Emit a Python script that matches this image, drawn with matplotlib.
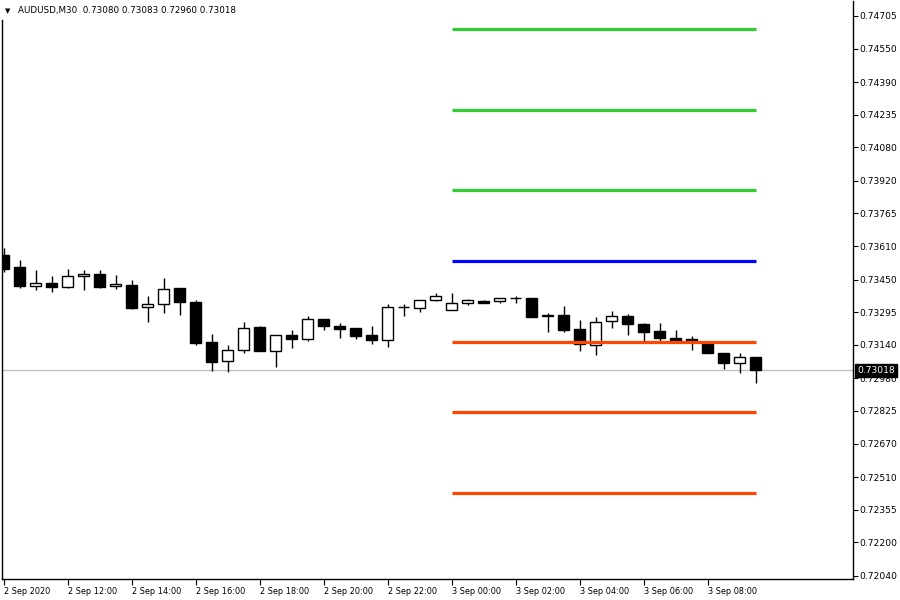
import matplotlib
matplotlib.use("Agg")
import matplotlib.pyplot as plt
import matplotlib.transforms as mtrans

symbol_title = "AUDUSD,M30  0.73080 0.73083 0.72960 0.73018"

opens = [0.73567, 0.73509, 0.73421, 0.73434, 0.73417, 0.73466, 0.73477, 0.73418,
         0.73425, 0.73318, 0.73333, 0.73410, 0.73344, 0.73152, 0.73061, 0.73114,
         0.73223, 0.73109, 0.73185, 0.73169, 0.73261, 0.73228, 0.73218, 0.73185,
         0.73164, 0.73318, 0.73314, 0.73352, 0.73304, 0.73337, 0.73347, 0.73347,
         0.73361, 0.73361, 0.73283, 0.73282, 0.73214, 0.73138, 0.73252, 0.73277,
         0.73238, 0.73204, 0.73171, 0.73166, 0.73153, 0.73099, 0.73052, 0.73080]
highs = [0.73601, 0.73544, 0.73496, 0.73467, 0.73501, 0.73496, 0.73496, 0.73472,
         0.73448, 0.73372, 0.73458, 0.73410, 0.73353, 0.73190, 0.73138, 0.73248,
         0.73229, 0.73185, 0.73209, 0.73276, 0.73261, 0.73242, 0.73218, 0.73228,
         0.73333, 0.73333, 0.73352, 0.73385, 0.73385, 0.73356, 0.73352, 0.73361,
         0.73371, 0.73361, 0.73290, 0.73325, 0.73257, 0.73271, 0.73299, 0.73285,
         0.73242, 0.73242, 0.73210, 0.73182, 0.73159, 0.73099, 0.73099, 0.73083]
lows = [0.73486, 0.73412, 0.73402, 0.73393, 0.73412, 0.73402, 0.73412, 0.73407,
        0.73312, 0.73250, 0.73293, 0.73283, 0.73140, 0.73017, 0.73009, 0.73102,
        0.73109, 0.73036, 0.73126, 0.73159, 0.73212, 0.73174, 0.73169, 0.73145,
        0.73131, 0.73278, 0.73296, 0.73347, 0.73304, 0.73328, 0.73337, 0.73337,
        0.73337, 0.73274, 0.73199, 0.73202, 0.73109, 0.73093, 0.73218, 0.73185,
        0.73152, 0.73158, 0.73149, 0.73114, 0.73099, 0.73026, 0.73004, 0.72960]
closes = [0.73501, 0.73421, 0.73434, 0.73417, 0.73467, 0.73477, 0.73417, 0.73429,
          0.73317, 0.73334, 0.73406, 0.73345, 0.73150, 0.73060, 0.73114, 0.73218,
          0.73109, 0.73185, 0.73169, 0.73261, 0.73228, 0.73217, 0.73183, 0.73164,
          0.73318, 0.73319, 0.73352, 0.73371, 0.73337, 0.73352, 0.73340, 0.73361,
          0.73361, 0.73274, 0.73276, 0.73212, 0.73142, 0.73247, 0.73276, 0.73238,
          0.73199, 0.73171, 0.73153, 0.73158, 0.73099, 0.73052, 0.73080, 0.73018]

green_levels = [0.74643, 0.74258, 0.73877]
blue_levels = [0.73539]
red_levels = [0.73153, 0.72820, 0.72434]
level_start_bar = 28
level_end_bar = 47
current_price = 0.73018

y_tick_labels = ["0.74705", "0.74550", "0.74390", "0.74235", "0.74080", "0.73920",
                 "0.73765", "0.73610", "0.73450", "0.73295", "0.73140", "0.72980",
                 "0.72825", "0.72670", "0.72510", "0.72355", "0.72200", "0.72040"]
x_tick_bars = [0, 4, 8, 12, 16, 20, 24, 28, 32, 36, 40, 44]
x_tick_labels = ["2 Sep 2020", "2 Sep 12:00", "2 Sep 14:00", "2 Sep 16:00",
                 "2 Sep 18:00", "2 Sep 20:00", "2 Sep 22:00", "3 Sep 00:00",
                 "3 Sep 02:00", "3 Sep 04:00", "3 Sep 06:00", "3 Sep 08:00"]

W, H = 900, 600
fig = plt.figure(figsize=(9, 6), dpi=100)
fig.patch.set_facecolor("white")
left_px, right_px, top_px, bottom_px = 2, 853, 1, 579
ax = fig.add_axes([left_px / W, 1 - bottom_px / H, (right_px - left_px) / W,
                   (bottom_px - top_px) / H])
ax.set_facecolor("white")

ax.set_xlim((left_px - 3.5) / 16, (right_px - 3.5) / 16)
ax.set_ylim(0.74705 - (bottom_px - 16) * 0.0000476, 0.74705 + (16 - top_px) * 0.0000476)

ax.axhline(current_price, color="#C0C0C0", lw=1.0, zorder=1)

n = len(opens)
for i in range(n):
    o, h, l, c = opens[i], highs[i], lows[i], closes[i]
    ax.vlines(i, l, h, color="black", lw=1.0, zorder=2)
    bull = c >= o
    ax.bar(i, c - o, bottom=o, width=0.66, color="white" if bull else "black",
           edgecolor="black", linewidth=1.0, zorder=3)

lw_level = 2.3
ax.hlines(green_levels, level_start_bar, level_end_bar, colors="#32CD32", lw=lw_level, zorder=4)
ax.hlines(blue_levels, level_start_bar, level_end_bar, colors="#0000FF", lw=lw_level, zorder=4)
ax.hlines(red_levels, level_start_bar, level_end_bar, colors="#FF4500", lw=lw_level, zorder=4)

for s in ["top", "left"]:
    ax.spines[s].set_visible(False)
for s in ["right", "bottom"]:
    ax.spines[s].set_linewidth(1.0)
    ax.spines[s].set_color("black")

ax.yaxis.tick_right()
ax.set_yticks([float(t) for t in y_tick_labels])
ax.set_yticklabels(y_tick_labels, fontsize=6.6)
ax.tick_params(axis="y", direction="out", length=3.5, width=0.8, pad=1, colors="black")

ax.set_xticks(x_tick_bars)
ax.set_xticklabels(x_tick_labels, fontsize=5.9, ha="left")
ax.tick_params(axis="x", direction="out", length=4, width=0.8, pad=2, colors="black")
offset = mtrans.ScaledTranslation(1 / 100, 0, fig.dpi_scale_trans)
for lab in ax.get_xticklabels():
    lab.set_transform(lab.get_transform() + offset)

ax.annotate(f"{current_price:.5f}", xy=(1.0, current_price),
            xycoords=("axes fraction", "data"), xytext=(3, 0), textcoords="offset points",
            fontsize=6.6, color="white", va="center", ha="left",
            bbox=dict(boxstyle="square,pad=0.2", fc="black", ec="black"),
            annotation_clip=False, zorder=10)

fig.text(5 / W, 1 - 11 / H, "\u25BC", fontsize=5, va="center", ha="left", color="black")
fig.text(18 / W, 1 - 11 / H, symbol_title, fontsize=6.3, va="center", ha="left", color="black")

fig.add_artist(plt.Line2D([left_px / W, left_px / W], [1 - bottom_px / H, 1 - 20 / H],
                          color="black", lw=1.0))

fig.savefig("out.png", dpi=100, facecolor="white")
